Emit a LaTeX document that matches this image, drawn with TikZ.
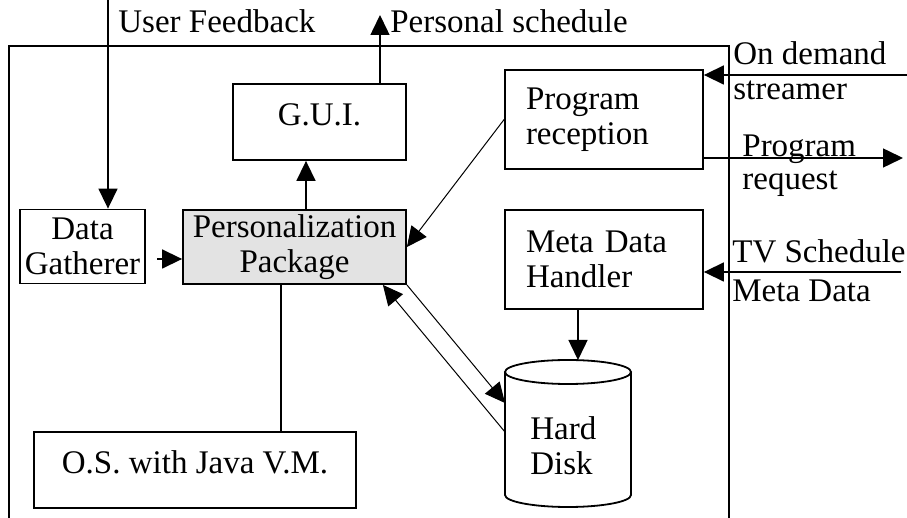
\documentclass[tikz,border=0pt]{standalone}
\usepackage{fontspec}
\setmainfont{Liberation Serif}
\usetikzlibrary{arrows.meta}

\begin{document}
\begin{tikzpicture}[x=0.5pt,y=-0.5pt]
\tikzstyle{every node}=[font=\fontsize{16.5pt}{17.5pt}\selectfont]
\tikzstyle{box}=[draw, line width=0.9pt, rectangle, align=center, inner sep=0pt]
\tikzstyle{toptext}=[text height=11pt, text depth=7pt]
\tikzstyle{lbl}=[inner sep=0pt, anchor=base west]
\tikzstyle{arr}=[line width=0.75pt, -{Triangle[length=10pt,width=9.5pt]}]
\useasboundingbox (0,0) rectangle (907,518);

% set top box
\draw[line width=0.9pt] (9,518) -- (9,46) -- (729,46) -- (729,518);

% blocks
\node (gui) [box, toptext, minimum width=86.5pt, minimum height=38pt] at (319.5,122) {G.U.I.};
\node (dg) [box, minimum width=62.5pt, minimum height=37pt] at (82.5,246.5) {Data\\Gatherer};
\node (pp) [box, fill=black!11, minimum width=111.5pt, minimum height=37pt] at (294.5,247) {Personalization\\Package};
\node (os) [box, toptext, minimum width=161pt, minimum height=38pt] at (195,470) {O.S. with Java V.M.};
\node (pr) [box, align=left, text width=78pt, inner xsep=10.5pt, minimum height=49.5pt] at (604,119.5) {Program\\reception};
\node (mdh) [box, align=left, text width=78pt, inner xsep=10.5pt, minimum height=49.5pt] at (604,259.5) {Meta Data\\Handler};

% hard disk
\draw[line width=0.9pt] (568,372) ellipse [x radius=63, y radius=12];
\draw[line width=0.9pt] (505,372) -- (505,495) arc[start angle=180, end angle=0, x radius=63, y radius=12] -- (631,372);
\node (hd) [lbl, anchor=north west, align=left] at (530,416) {Hard\\Disk};
\coordinate (hdtop) at (578,360);
\coordinate (hdin) at (505,403);
\coordinate (hdout) at (505,432);

% outside labels
\node (ufbl) [lbl] at (118,33) {User Feedback};
\node (psl) [lbl] at (390,33) {Personal schedule};
\node (odl) [lbl] at (733,65) {On demand};
\node (odl2) [lbl] at (733,100) {streamer};
\node (prl) [lbl] at (742,157) {Program};
\node (prl2) [lbl] at (742,190) {request};
\node (tvl) [lbl] at (732,263) {TV Schedule};
\node (tvl2) [lbl] at (732,302) {Meta Data};

% free ends
\coordinate (ufb) at (108,0);
\coordinate (ps) at (380,15);
\coordinate (ods) at (907,75);
\coordinate (preq) at (903,158);
\coordinate (tvs) at (901,272);
\coordinate (dgout) at (157,259);

% connections
\draw[arr] (ufb) -- (ufb |- dg.north);
\draw[arr] (ps |- gui.north) -- (ps);
\draw[arr] (306,0 |- pp.north) -- (306,0 |- gui.south);
\draw[arr] (dgout) -- (dgout -| pp.west);
\draw[line width=0.75pt] (281,0 |- pp.south) -- (281,0 |- os.north);
\draw[arr] (ods) -- (ods -| pr.east);
\draw[arr] (pr.east |- preq) -- (preq);
\draw[arr] (tvs) -- (tvs -| mdh.east);
\draw[arr] (hdtop |- mdh.south) -- (hdtop);
\draw[arr, line width=0.5pt] (pr.west) -- (pp.east);
\draw[arr, line width=0.5pt] (pp.south east) -- (hdin);
\draw[arr, line width=0.5pt] (hdout) -- ([xshift=-12pt]pp.south east);
\end{tikzpicture}
\end{document}
